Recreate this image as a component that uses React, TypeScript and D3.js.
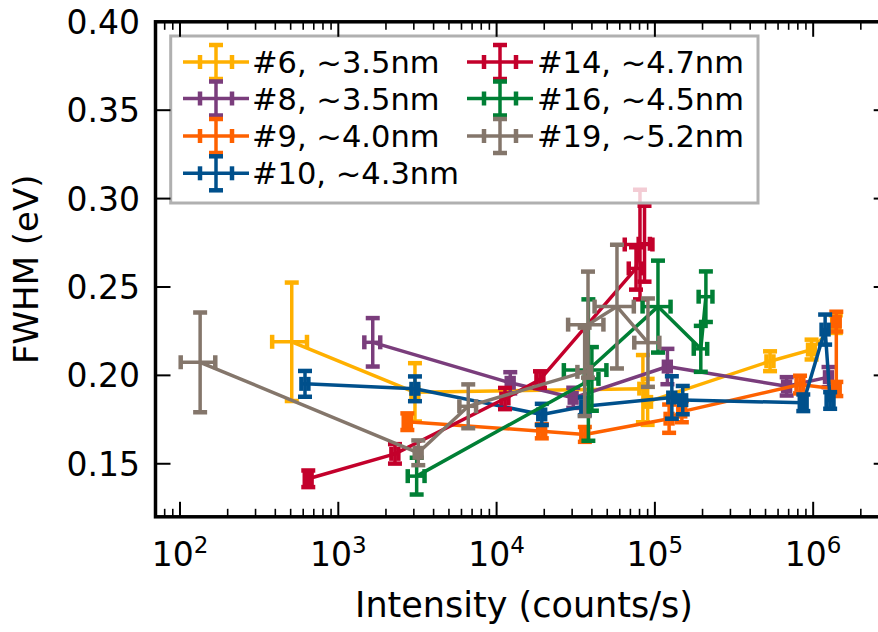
import React from 'react';
import * as d3 from 'd3';

// ---------- data ----------
const seriesLabels = ['#6, ~3.5nm', '#8, ~3.5nm', '#9, ~4.0nm', '#10, ~4.3nm', '#14, ~4.7nm', '#16, ~4.5nm', '#19, ~5.2nm'];
const seriesColors = ['#ffb000', '#7a3d7c', '#fe6100', '#00508c', '#c3002b', '#007f35', '#84766b'];

const s6X = [508, 3050, 84000, 90000, 534000, 977000, 1390000];
const s6Y = [0.219, 0.1904, 0.1925, 0.185, 0.208, 0.2146, 0.229];
const s6YErr = [0.0335, 0.0165, 0.019, 0.013, 0.0056, 0.0056, 0.005];
const s6XErr = [126, 150, 4200, 4500, 27000, 49000, 70000];

const s8X = [1650, 12200, 30500, 120000, 680000, 1250000];
const s8Y = [0.2187, 0.1958, 0.1873, 0.205, 0.1938, 0.199];
const s8YErr = [0.0137, 0.006, 0.0057, 0.01, 0.0052, 0.0057];
const s8XErr = [190, 610, 1500, 6000, 34000, 62000];

const s9X = [2730, 19300, 36100, 123000, 148000, 826000, 1400000, 1400000];
const s9Y = [0.1738, 0.1684, 0.1666, 0.1755, 0.1795, 0.1948, 0.1923, 0.2304];
const s9YErr = [0.0047, 0.004, 0.0042, 0.008, 0.006, 0.005, 0.004, 0.0056];
const s9XErr = [140, 960, 1800, 6100, 7400, 41000, 70000, 70000];

const s10X = [616, 3050, 19300, 36100, 128000, 150000, 866000, 1190000, 1280000];
const s10Y = [0.1952, 0.1924, 0.1779, 0.1825, 0.1875, 0.186, 0.1845, 0.2259, 0.1858];
const s10YErr = [0.0073, 0.007, 0.006, 0.005, 0.012, 0.008, 0.0047, 0.0085, 0.0047];
const s10XErr = [31, 150, 960, 1800, 6400, 7500, 43000, 60000, 64000];

const s14X = [646, 2280, 11300, 18800, 76000, 80500, 86000];
const s14Y = [0.1415, 0.1556, 0.1869, 0.1976, 0.2605, 0.274, 0.2745];
const s14YErr = [0.0047, 0.0055, 0.006, 0.0047, 0.012, 0.031, 0.0215];
const s14XErr = [32, 115, 570, 940, 7600, 16000, 7000];

const s16X = [3126, 40000, 38000, 104600, 195000, 210000];
const s16Y = [0.143, 0.198, 0.203, 0.2389, 0.215, 0.2445];
const s16YErr = [0.0104, 0.018, 0.040, 0.026, 0.013, 0.0143];
const s16XErr = [380, 4000, 11400, 21000, 19000, 21000];

const s19X = [134, 3200, 6620, 36000, 37800, 57600, 90400];
const s19Y = [0.2074, 0.1562, 0.1825, 0.202, 0.2287, 0.2389, 0.2185];
const s19YErr = [0.0282, 0.007, 0.0124, 0.025, 0.030, 0.035, 0.025];
const s19XErr = [33, 160, 800, 3600, 9500, 16000, 16300];

const seriesX = [s6X, s8X, s9X, s10X, s14X, s16X, s19X];
const seriesY = [s6Y, s8Y, s9Y, s10Y, s14Y, s16Y, s19Y];
const seriesYErr = [s6YErr, s8YErr, s9YErr, s10YErr, s14YErr, s16YErr, s19YErr];
const seriesXErr = [s6XErr, s8XErr, s9XErr, s10XErr, s14XErr, s16XErr, s19XErr];

const yTicks = [0.15, 0.2, 0.25, 0.3, 0.35, 0.4];
const yTickLabels = ['0.15', '0.20', '0.25', '0.30', '0.35', '0.40'];
const xMajor = [1e2, 1e3, 1e4, 1e5, 1e6];
const xMajorExp = ['2', '3', '4', '5', '6'];

// ---------- layout ----------
const W = 878, H = 632;
const L = 155.5, R = 888.7, T = 21.8, B = 516.8;
const FONT = 'DejaVu Sans, sans-serif';

export default function App() {
  const x = d3.scaleLog().domain([70, 3e6]).range([L, R]);
  const y = d3.scaleLinear().domain([0.12, 0.4]).range([B, T]);

  const minor: number[] = [];
  for (let e = 1; e <= 6; e++) for (let m = 2; m <= 9; m++) {
    const v = m * Math.pow(10, e);
    if (v >= 70 && v <= 3e6) minor.push(v);
  }

  const line = d3.line<[number, number]>().x(d => x(d[0])).y(d => y(d[1]));
  const cap = 7, lw = 3.5, cw = 4.5;

  const series = seriesX.map((xs, si) => {
    const col = seriesColors[si];
    const pts: [number, number][] = xs.map((v, i) => [v, seriesY[si][i]]);
    return (
      <g key={si}>
        <path d={line(pts) || ''} fill="none" stroke={col} strokeWidth={lw} strokeLinejoin="round" />
        {xs.map((v, i) => {
          const cx = x(v), cy = y(seriesY[si][i]);
          const y0 = y(seriesY[si][i] - seriesYErr[si][i]);
          const y1 = y(seriesY[si][i] + seriesYErr[si][i]);
          const x0 = x(v - seriesXErr[si][i]);
          const x1 = x(v + seriesXErr[si][i]);
          return (
            <g key={i} stroke={col}>
              <line x1={cx} x2={cx} y1={y0} y2={y1} strokeWidth={lw} />
              <line x1={x0} x2={x1} y1={cy} y2={cy} strokeWidth={lw} />
              <line x1={cx - cap} x2={cx + cap} y1={y0} y2={y0} strokeWidth={cw} />
              <line x1={cx - cap} x2={cx + cap} y1={y1} y2={y1} strokeWidth={cw} />
              <line x1={x0} x2={x0} y1={cy - cap} y2={cy + cap} strokeWidth={cw} />
              <line x1={x1} x2={x1} y1={cy - cap} y2={cy + cap} strokeWidth={cw} />
            </g>
          );
        })}
      </g>
    );
  });

  // legend
  const legRows = [62, 98.5, 136, 173.3];
  const legCols = [{ hx: 216, tx: 252 }, { hx: 500, tx: 537 }];
  const legend = seriesLabels.map((lab, si) => {
    const col = si < 4 ? 0 : 1;
    const row = si < 4 ? si : si - 4;
    const cy = legRows[row];
    const { hx, tx } = legCols[col];
    const c = seriesColors[si];
    return (
      <g key={si}>
        <g stroke={c}>
          <line x1={hx - 33} x2={hx + 33} y1={cy} y2={cy} strokeWidth={lw} />
          <line x1={hx} x2={hx} y1={cy - 17} y2={cy + 17} strokeWidth={lw} />
          <line x1={hx - cap} x2={hx + cap} y1={cy - 17} y2={cy - 17} strokeWidth={cw} />
          <line x1={hx - cap} x2={hx + cap} y1={cy + 17} y2={cy + 17} strokeWidth={cw} />
          <line x1={hx - 16} x2={hx - 16} y1={cy - cap} y2={cy + cap} strokeWidth={cw} />
          <line x1={hx + 16} x2={hx + 16} y1={cy - cap} y2={cy + cap} strokeWidth={cw} />
        </g>
        <text x={tx} y={cy + 11} fontSize={30.5} fontFamily={FONT} fill="#000">{lab}</text>
      </g>
    );
  });

  return (
    <svg width={W} height={H} style={{ position: 'absolute', left: 0, top: 0, background: '#fff' }}>
      <defs>
        <clipPath id="plotclip"><rect x={L} y={T} width={R - L} height={B - T} /></clipPath>
      </defs>
      <rect x={0} y={0} width={W} height={H} fill="#fff" />
      <g clipPath="url(#plotclip)">{series}</g>

      {/* legend box */}
      <rect x={170.7} y={36} width={587.3} height={167} fill="#fff" fillOpacity={0.8} stroke="#b0b0b0" strokeWidth={3} />
      {legend}

      {/* ticks */}
      <g stroke="#000">
        {yTicks.map((v, i) => (
          <g key={i} strokeWidth={2}>
            <line x1={L} x2={L + 15} y1={y(v)} y2={y(v)} />
            <line x1={R} x2={R - 15} y1={y(v)} y2={y(v)} />
          </g>
        ))}
        {xMajor.map((v, i) => (
          <g key={i} strokeWidth={2}>
            <line x1={x(v)} x2={x(v)} y1={B} y2={B - 15} />
            <line x1={x(v)} x2={x(v)} y1={T} y2={T + 15} />
          </g>
        ))}
        {minor.map((v, i) => (
          <g key={i} strokeWidth={1.6}>
            <line x1={x(v)} x2={x(v)} y1={B} y2={B - 8} />
            <line x1={x(v)} x2={x(v)} y1={T} y2={T + 8} />
          </g>
        ))}
      </g>
      <rect x={L} y={T} width={R - L} height={B - T} fill="none" stroke="#000" strokeWidth={3.5} />

      {/* tick labels */}
      {yTicks.map((v, i) => (
        <text key={i} x={140} y={y(v) + 12} textAnchor="end" fontSize={33} fontFamily={FONT} fill="#000">{yTickLabels[i]}</text>
      ))}
      {xMajor.map((v, i) => (
        <text key={i} x={x(v)} y={566} textAnchor="middle" fontSize={33} fontFamily={FONT} fill="#000">
          10<tspan dy={-13} fontSize={23}>{xMajorExp[i]}</tspan>
        </text>
      ))}

      {/* axis labels */}
      <text x={524} y={617} textAnchor="middle" fontSize={35} fontFamily={FONT} fill="#000">Intensity (counts/s)</text>
      <text transform={`translate(38, ${(T + B) / 2}) rotate(-90)`} textAnchor="middle" fontSize={34} fontFamily={FONT} fill="#000">FWHM (eV)</text>
    </svg>
  );
}
